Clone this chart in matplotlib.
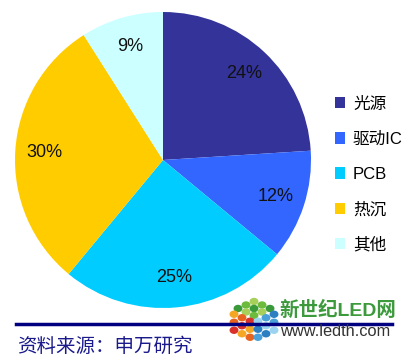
import matplotlib.pyplot as plt
from matplotlib.lines import Line2D
from matplotlib.patches import Ellipse

plt.rcParams['font.family'] = ['Liberation Sans', 'Noto Sans CJK SC']

labels = ['光源', '驱动IC', 'PCB', '热沉', '其他']
shares = [24, 12, 25, 30, 9]
colors = ['#333399', '#3366FF', '#00CCFF', '#FFCC00', '#CCFFFF']

W, H = 406, 364
fig = plt.figure(figsize=(W / 100, H / 100), dpi=100)

# pie centre (163,160) px, radius 148 px
cx, cy, r = 163, 160, 148
ax = fig.add_axes([(cx - r) / W, (H - cy - r) / H, 2 * r / W, 2 * r / H])
wedges, texts, autotexts = ax.pie(shares, colors=colors, startangle=90, counterclock=False,
                                  autopct='%d%%', pctdistance=0.8, radius=1,
                                  textprops={'fontsize': 13, 'color': '#111111'})
ax.set_xlim(-1, 1)
ax.set_ylim(-1, 1)
ax.axis('off')

fig.legend(wedges, labels, loc='upper left', bbox_to_anchor=(328 / W, 1 - 90 / H),
           frameon=False, fontsize=12, labelspacing=1.2, handlelength=0.65,
           handleheight=0.65, handletextpad=0.45, borderaxespad=0)

# footer line and source note
fig.add_artist(Line2D([16 / W, 392 / W], [1 - 324 / H, 1 - 324 / H], color='#000080', lw=2.5))
fig.text(17 / W, 1 - 347 / H, '资料来源：申万研究', fontsize=14, color='#1a1a8c', va='center')

# watermark logo: isometric cube of dots
top = (254, 298)
a, b, c = (8, 3.5), (-8, 3.5), (0, 8)
greens = ['#a6d05a', '#6cbb3c', '#3a9a3a']
warm = ['#f5a623', '#e8641e', '#d9302a']
blues = ['#2c7fc0', '#4aa0d8', '#9ad4f0']
dots = []
for i in range(3):
    for j in range(3):
        dots.append((top[0] + (i + .5) * a[0] + (j + .5) * b[0],
                     top[1] + (i + .5) * a[1] + (j + .5) * b[1], greens[(i + j) % 3]))
for i in range(3):
    for k in range(3):
        dots.append((top[0] + 3 * b[0] + (i + .5) * a[0], top[1] + 3 * b[1] + (i + .5) * a[1] + (k + .5) * c[1],
                     warm[(i + k) % 3]))
        dots.append((top[0] + 3 * a[0] + (i + .5) * b[0], top[1] + 3 * a[1] + (i + .5) * b[1] + (k + .5) * c[1],
                     blues[(i + k) % 3]))
for x, y, col in dots:
    fig.add_artist(Ellipse((x / W, 1 - y / H), 7.5 / W, 6 / H, color=col, transform=fig.transFigure))
fig.text(279 / W, 1 - 310 / H, '新世纪LED网', fontsize=14, fontweight='bold', color='#3c9a3c', va='center')
fig.text(280 / W, 1 - 331 / H, 'www.ledth.com', fontsize=11.8, color='#333333', va='center')

fig.savefig('out.png', dpi=100)
